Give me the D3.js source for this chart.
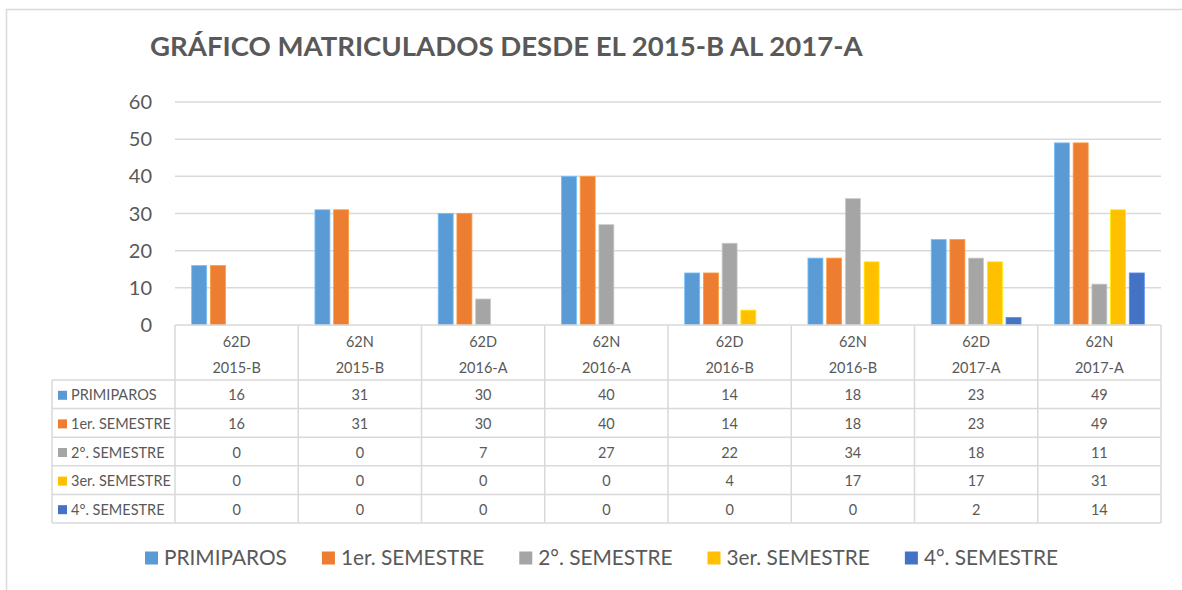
<!DOCTYPE html>
<html lang="es">
<head>
<meta charset="UTF-8">
<title>Gráfico matriculados</title>
<script src="https://d3js.org/d3.v7.min.js"></script>
<style>
    body, html { margin: 0; padding: 0; background: #fff; }
    svg { display: block; font-family: Lato, "Open Sans", sans-serif; }
</style>
</head>
<body>
<script>
    // chart data
    const groups = ["62D", "62N", "62D", "62N", "62D", "62N", "62D", "62N"];
    const periods = ["2015-B", "2015-B", "2016-A", "2016-A", "2016-B", "2016-B", "2017-A", "2017-A"];
    const seriesNames = ["PRIMIPAROS", "1er. SEMESTRE", "2°. SEMESTRE", "3er. SEMESTRE", "4°. SEMESTRE"];
    const primiparos = [16, 31, 30, 40, 14, 18, 23, 49];
    const semestre1 = [16, 31, 30, 40, 14, 18, 23, 49];
    const semestre2 = [0, 0, 7, 27, 22, 34, 18, 11];
    const semestre3 = [0, 0, 0, 0, 4, 17, 17, 31];
    const semestre4 = [0, 0, 0, 0, 0, 0, 2, 14];
    const yTicks = [0, 10, 20, 30, 40, 50, 60];
    const colors = ["#5B9BD5", "#ED7D31", "#A5A5A5", "#FFC000", "#4472C4"];

    const seriesValues = [primiparos, semestre1, semestre2, semestre3, semestre4];
    const cats = d3.range(groups.length);

    const width = 1182, height = 590;
    const textColor = "#595959", lineColor = "#d9d9d9";

    const svg = d3.select("body").append("svg")
        .attr("width", width)
        .attr("height", height);

    // outer chart border (top + left visible)
    svg.append("path")
        .attr("d", "M6.5,590 V9.5 H1182")
        .attr("fill", "none")
        .attr("stroke", lineColor)
        .attr("stroke-width", 1.5);

    // title, sized to fit its width in the reference
    const title = svg.append("text")
        .attr("x", 150)
        .attr("y", 56)
        .attr("fill", textColor)
        .attr("font-weight", "bold")
        .attr("font-size", 26)
        .text("GRÁFICO MATRICULADOS DESDE EL 2015-B AL 2017-A");
    const tw = title.node().getComputedTextLength();
    title.attr("font-size", 26 * 713 / tw);

    // scales
    const x0 = d3.scaleBand().domain(cats).range([175, 1161]);
    const x1 = d3.scaleBand().domain(d3.range(seriesNames.length))
        .range([16.7, x0.bandwidth() - 16.7])
        .paddingInner(0.2);
    const y = d3.scaleLinear().domain([0, 60]).range([325, 102]);

    // gridlines
    svg.append("g").selectAll("line")
        .data(yTicks.filter(d => d > 0))
        .join("line")
        .attr("x1", 175).attr("x2", 1161)
        .attr("y1", d => y(d)).attr("y2", d => y(d))
        .attr("stroke", lineColor)
        .attr("stroke-width", 1.5);

    // y axis labels
    svg.append("g").selectAll("text")
        .data(yTicks)
        .join("text")
        .attr("x", 152)
        .attr("y", d => y(d))
        .attr("dy", "0.35em")
        .attr("text-anchor", "end")
        .attr("fill", textColor)
        .attr("font-size", 20)
        .text(d => d);

    // bars
    const barGroups = svg.append("g").selectAll("g")
        .data(cats)
        .join("g")
        .attr("transform", c => `translate(${x0(c)},0)`);

    barGroups.selectAll("rect")
        .data(c => seriesValues.map((vals, s) => ({ s, v: vals[c] })))
        .join("rect")
        .attr("x", d => x1(d.s))
        .attr("width", x1.bandwidth())
        .attr("y", d => y(d.v))
        .attr("height", d => y(0) - y(d.v))
        .attr("fill", d => colors[d.s])
        .attr("stroke", d => d3.color(colors[d.s]).brighter(0.6))
        .attr("stroke-width", d => d.v > 0 ? 0.8 : 0);

    // data table
    const tableLeft = 52, headTop = 325, rowTop = 380, rowH = 28.6;
    const rowY = i => rowTop + i * rowH;
    const table = svg.append("g")
        .attr("stroke", lineColor)
        .attr("stroke-width", 1.5);

    table.append("line")
        .attr("x1", 175).attr("x2", 1161)
        .attr("y1", headTop).attr("y2", headTop);
    table.selectAll(".hrow")
        .data(d3.range(seriesNames.length + 1))
        .join("line")
        .attr("class", "hrow")
        .attr("x1", tableLeft).attr("x2", 1161)
        .attr("y1", d => rowY(d)).attr("y2", d => rowY(d));
    table.selectAll(".vcol")
        .data(cats.concat([cats.length]))
        .join("line")
        .attr("class", "vcol")
        .attr("x1", c => c < cats.length ? x0(c) : 1161)
        .attr("x2", c => c < cats.length ? x0(c) : 1161)
        .attr("y1", headTop).attr("y2", rowY(seriesNames.length));
    table.append("line")
        .attr("x1", tableLeft).attr("x2", tableLeft)
        .attr("y1", rowTop).attr("y2", rowY(seriesNames.length));

    const cellText = svg.append("g")
        .attr("fill", textColor)
        .attr("font-size", 14.5)
        .attr("text-anchor", "middle");

    cellText.selectAll(".grp")
        .data(cats)
        .join("text")
        .attr("x", c => x0(c) + x0.bandwidth() / 2)
        .attr("y", 342).attr("dy", "0.35em")
        .text(c => groups[c]);
    cellText.selectAll(".per")
        .data(cats)
        .join("text")
        .attr("x", c => x0(c) + x0.bandwidth() / 2)
        .attr("y", 368).attr("dy", "0.35em")
        .text(c => periods[c]);

    seriesValues.forEach((vals, s) => {
        cellText.append("g").selectAll("text")
            .data(cats)
            .join("text")
            .attr("x", c => x0(c) + x0.bandwidth() / 2)
            .attr("y", rowY(s) + rowH / 2 + 1).attr("dy", "0.35em")
            .text(c => vals[c]);
    });

    // row labels with keys
    const rowLabels = svg.append("g").selectAll("g")
        .data(seriesNames)
        .join("g")
        .attr("transform", (d, i) => `translate(58,${rowY(i) + rowH / 2 + 1})`);
    rowLabels.append("rect")
        .attr("x", 0).attr("y", -4.5)
        .attr("width", 9).attr("height", 9)
        .attr("fill", (d, i) => colors[i]);
    rowLabels.append("text")
        .attr("x", 13).attr("dy", "0.35em")
        .attr("fill", textColor)
        .attr("font-size", 14.5)
        .text(d => d);

    // legend
    const legendY = 558, legendGap = 35;
    const legend = svg.append("g");
    const items = legend.selectAll("g")
        .data(seriesNames)
        .join("g");
    items.append("rect")
        .attr("x", 0).attr("y", -6.5)
        .attr("width", 13).attr("height", 13)
        .attr("fill", (d, i) => colors[i]);
    items.append("text")
        .attr("x", 19).attr("dy", "0.35em")
        .attr("fill", textColor)
        .attr("font-size", 21)
        .text(d => d);

    // fit legend font so "PRIMIPAROS" spans about 123px like the reference
    const firstW = items.select("text").node().getComputedTextLength();
    items.selectAll("text").attr("font-size", 21 * 123 / firstW);

    let lx = 145;
    items.each(function() {
        const g = d3.select(this);
        g.attr("transform", `translate(${lx},${legendY})`);
        lx += 19 + g.select("text").node().getComputedTextLength() + legendGap;
    });
</script>
</body>
</html>
